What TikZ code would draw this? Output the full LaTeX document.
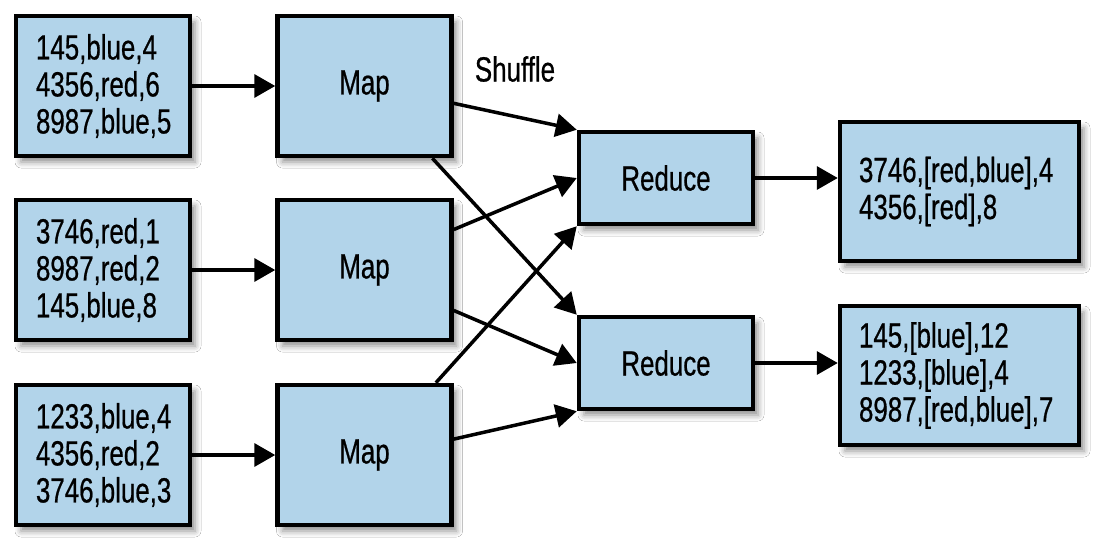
\documentclass[tikz,border=0pt]{standalone}
\usepackage{fontspec}
\setmainfont{Liberation Sans}[FakeStretch=0.74,FakeBold=0.6]
\usetikzlibrary{arrows.meta,shadows.blur,calc}
\definecolor{boxblue}{RGB}{178,212,234}
\begin{document}
\begin{tikzpicture}[x=1pt,y=-1pt,
  txt/.style={font=\fontsize{35}{37}\selectfont},
  box/.style={txt, draw=black, line width=4.5pt, fill=boxblue, inner sep=0pt,
    blur shadow={shadow xshift=5pt, shadow yshift=-6pt, shadow blur radius=6pt, shadow opacity=45}},
  inbox/.style={box, align=left, inner xsep=20pt, text width=134pt, minimum height=140pt},
  mapbox/.style={box, align=center, minimum width=174pt, minimum height=140pt},
  redbox/.style={box, align=center, minimum width=174pt, minimum height=92pt},
  outbox/.style={box, align=left, inner xsep=19pt, text width=201pt, minimum height=139pt},
  conn/.style={line width=3.5pt, -{Triangle[length=21pt,width=23pt]}}]
\useasboundingbox (0,0) rectangle (1107,554);
\fill[white] (0,0) rectangle (1107,554);

\node[inbox] (in1) at (103,86) {145,blue,4\\4356,red,6\\8987,blue,5};
\node[inbox] (in2) at (103,270) {3746,red,1\\8987,red,2\\145,blue,8};
\node[inbox] (in3) at (103,455) {1233,blue,4\\4356,red,2\\3746,blue,3};

\node[mapbox] (map1) at (364.5,86) {Map};
\node[mapbox] (map2) at (364.5,270) {Map};
\node[mapbox] (map3) at (364.5,455) {Map};

\node[redbox] (red1) at (666,178) {Reduce};
\node[redbox] (red2) at (666,363) {Reduce};

\node[outbox] (out1) at (959.5,191.5) {3746,[red,blue],4\\4356,[red],8};
\node[outbox] (out2) at (959.5,375.5) {145,[blue],12\\1233,[blue],4\\8987,[red,blue],7};

\node[txt] (shuffle) at (515,69) {Shuffle};

\draw[conn] (in1) -- (map1);
\draw[conn] (in2) -- (map2);
\draw[conn] (in3) -- (map3);

\draw[conn] ($(map1.north east)!0.62!(map1.south east)$) -- (red1.north west);
\draw[conn] ($(map1.south west)!0.88!(map1.south east)$) -- (red2.north west);
\draw[conn] ($(map2.north east)!0.22!(map2.south east)$) -- (red1.west);
\draw[conn] ($(map2.north east)!0.78!(map2.south east)$) -- (red2.west);
\draw[conn] ($(map3.north west)!0.9!(map3.north east)$) -- (red1.south west);
\draw[conn] ($(map3.north east)!0.39!(map3.south east)$) -- (red2.south west);

\draw[conn] (red1.east) -- (red1.east -| out1.west);
\draw[conn] (red2.east) -- (red2.east -| out2.west);
\end{tikzpicture}
\end{document}
